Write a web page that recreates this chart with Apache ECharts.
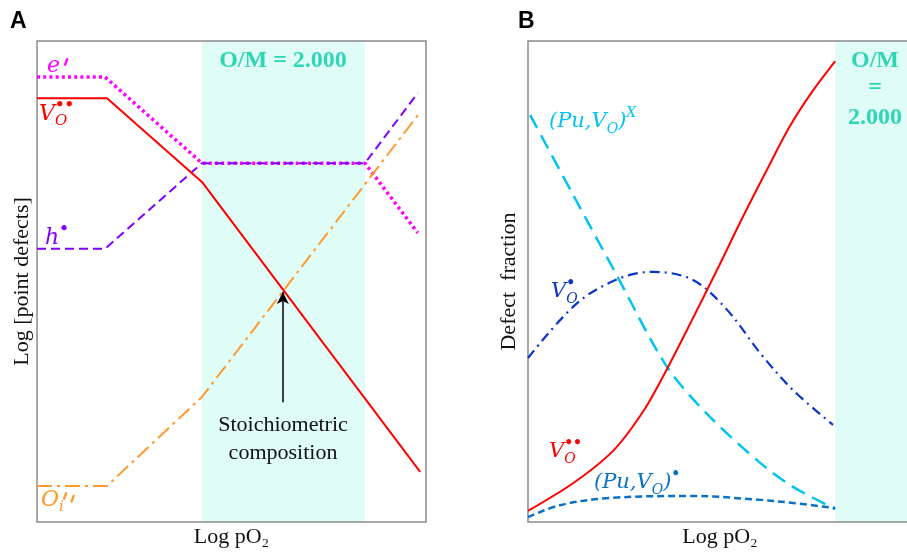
<!DOCTYPE html>
<html>
<head>
<meta charset="utf-8">
<script src="https://cdn.jsdelivr.net/npm/echarts@6/dist/echarts.min.js"></script>
<style>
  html, body { margin: 0; padding: 0; background: #fff; }
  #chart { width: 907px; height: 552px; }
</style>
</head>
<body>
<div id="chart"></div>
<script>
// panel A: Log [point defects] vs Log pO2 (arbitrary units, 0..100)
var electronA = [[0, 92.5], [17.5, 92.5], [42.4, 74.6], [84.3, 74.6], [97.9, 60.1]];
var vacancyA = [[0, 88.1], [18, 88.1], [42.4, 70.7], [98.5, 10.4]];
var holeA = [[0, 56.8], [17.5, 56.8], [42.4, 74.6], [84.3, 74.6], [97.9, 89.2]];
var interstitialA = [[0, 7.5], [18, 7.5], [42.4, 26], [98.5, 85.2]];
var stoichBandA = [42.4, 84.3];
var arrowA = [[63.2, 24.9], [63.2, 47.8]];

// panel B: defect fraction vs Log pO2
var vacancy2B = [[0, 2.3], [15, 8.2], [28, 15], [38, 23.5], [45, 31.5], [53, 41.5],
  [62, 53], [70, 63.5], [78, 73.5], [85, 82], [92, 89], [100, 95.8]];
var clusterNeutralB = [[0.7, 84.6], [14.7, 68], [28.3, 52], [45.3, 32.2], [59.3, 21.8],
  [75.6, 12.3], [86.3, 7.3], [100, 2.7]];
var vacancy1B = [[0, 34.1], [16, 45.5], [30, 50.7], [40.7, 52], [53.7, 50.3], [64.8, 44.1],
  [75.6, 35.1], [86.3, 27.4], [99.3, 20.2]];
var clusterChargedB = [[0, 1], [10.4, 3.5], [26.7, 5], [53.7, 5.4], [75.6, 4.6], [86.3, 3.95], [100, 2.9]];
var stoichBandB = [100, 125];

var SERIF = '"Liberation Serif", "DejaVu Serif", serif';
var MATH = '"DejaVu Serif", serif';
var TEAL = '#2ed6b4';
var SHADE = '#e0fcf7';

var chart = echarts.init(document.getElementById('chart'));

// measure text for math labels
var mctx = document.createElement('canvas').getContext('2d');
function tw(t, font) {
  mctx.font = font;
  return mctx.measureText(t).width;
}

// parts: [text, kind, bold] kind = n | sub | sup | prime
function mathLabel(x, y, parts, color, size) {
  var els = [];
  var cx = x, subStart = null, prev = 'n';
  var small = Math.round(size * 0.68);
  parts.forEach(function (p) {
    var t = p[0], k = p[1];
    var font, yy = y, rot = 0, va = 'middle', dx = 0;
    if (k === 'n') {
      font = 'italic ' + size + 'px ' + MATH;
    } else if (k === 'prime') {
      font = Math.round(size * 1.3) + 'px ' + MATH;
      yy = y - size * 0.45;
      va = 'top';
      rot = -0.35;
      dx = 4;
      if (prev === 'sub') cx = subStart;
    } else if (k === 'sub') {
      font = 'italic ' + small + 'px ' + MATH;
      yy = y + size * 0.34;
      subStart = cx;
    } else {
      font = (p[2] ? 'bold ' : 'italic ') + small + 'px ' + MATH;
      yy = y - size * 0.42;
      if (prev === 'sub') cx = subStart;
    }
    els.push({
      type: 'text', z: 100, x: cx + dx, y: yy, rotation: rot,
      style: { x: 0, y: 0, text: t, font: font, fill: color, verticalAlign: va }
    });
    var w = tw(t, font);
    if (k === 'sub') {
      subStart = cx;
      cx += w;
    } else if ((k === 'sup' || k === 'prime') && prev === 'sub') {
      cx = Math.max(cx + w, subStart + w);
    } else {
      cx += w;
    }
    prev = k;
  });
  return els;
}

function plainText(x, y, t, size, color, weight) {
  return {
    type: 'text', z: 100,
    style: {
      x: x, y: y, text: t, fill: color,
      font: (weight || 'normal') + ' ' + size + 'px ' + SERIF,
      align: 'center', verticalAlign: 'middle'
    }
  };
}

var graphics = [
  { type: 'text', z: 100, style: { x: 10, y: 22, text: 'A', font: 'bold 23px "Liberation Sans", Arial, sans-serif', fill: '#000', verticalAlign: 'middle' } },
  { type: 'text', z: 100, style: { x: 518, y: 22, text: 'B', font: 'bold 23px "Liberation Sans", Arial, sans-serif', fill: '#000', verticalAlign: 'middle' } },
  plainText(283, 61, 'O/M = 2.000', 24, TEAL, 'bold'),
  plainText(875, 61, 'O/M', 24, TEAL, 'bold'),
  plainText(875, 88, '=', 24, TEAL, 'bold'),
  plainText(875, 118, '2.000', 24, TEAL, 'bold')
];
graphics = graphics
  .concat(mathLabel(47, 66, [['e', 'n'], ["'", 'prime']], '#ff00ff', 22))
  .concat(mathLabel(39, 114, [['V', 'n'], ['O', 'sub'], ['\u2022\u2022', 'sup', true]], '#ff0000', 22))
  .concat(mathLabel(45, 238, [['h', 'n'], ['\u2022', 'sup', true]], '#7f00ff', 22))
  .concat(mathLabel(41, 500, [['O', 'n'], ['i', 'sub'], ["''", 'prime']], '#ff9a2e', 22))
  .concat(mathLabel(549, 122, [['(Pu,V', 'n'], ['O', 'sub'], [')', 'n'], ['X', 'sup']], '#00c3f5', 21))
  .concat(mathLabel(551, 292, [['V', 'n'], ['O', 'sub'], ['\u2022', 'sup', true]], '#0a35c8', 21))
  .concat(mathLabel(549, 452, [['V', 'n'], ['O', 'sub'], ['\u2022\u2022', 'sup', true]], '#ff0000', 21))
  .concat(mathLabel(594, 483, [['(Pu,V', 'n'], ['O', 'sub'], [')', 'n'], ['\u2022', 'sup', true]], '#0a72c4', 21));
graphics.push(plainText(283, 425, 'Stoichiometric', 22, '#111'));
graphics.push(plainText(283, 453, 'composition', 22, '#111'));

function axisBase(extra) {
  return Object.assign({
    type: 'value',
    axisLine: { show: false },
    axisTick: { show: false },
    axisLabel: { show: false },
    splitLine: { show: false }
  }, extra);
}

function curve(name, data, color, width, dash, gi, smooth) {
  return {
    name: name, type: 'line', data: data,
    xAxisIndex: gi, yAxisIndex: gi,
    showSymbol: false, smooth: smooth || false,
    lineStyle: { color: color, width: width, type: dash, cap: 'butt' },
    silent: true, animation: false
  };
}

var nameStyle = { fontFamily: SERIF, fontSize: 22, color: '#111' };

chart.setOption({
  animation: false,
  grid: [
    { left: 37, top: 41, width: 389, height: 481, show: true, borderColor: '#8a8a8a', borderWidth: 1.5, z: 3, outerBoundsMode: 'none' },
    { left: 528, top: 41, width: 384, height: 481, show: true, borderColor: '#8a8a8a', borderWidth: 1.5, z: 3, outerBoundsMode: 'none' }
  ],
  xAxis: [
    axisBase({ gridIndex: 0, min: 0, max: 100, name: 'Log pO\u2082', nameLocation: 'middle', nameGap: 4, nameTextStyle: nameStyle }),
    axisBase({ gridIndex: 1, min: 0, max: 125, name: 'Log pO\u2082', nameLocation: 'middle', nameGap: 4, nameTextStyle: nameStyle })
  ],
  yAxis: [
    axisBase({ gridIndex: 0, min: 0, max: 100, name: 'Log [point defects]', nameLocation: 'middle', nameGap: 4, nameTextStyle: nameStyle }),
    axisBase({ gridIndex: 1, min: 0, max: 100, name: 'Defect  fraction', nameLocation: 'middle', nameGap: 8, nameTextStyle: nameStyle })
  ],
  graphic: graphics,
  series: [
    {
      type: 'line', data: [], xAxisIndex: 0, yAxisIndex: 0, silent: true,
      markArea: {
        silent: true, itemStyle: { color: SHADE },
        data: [[{ xAxis: stoichBandA[0], yAxis: 0 }, { xAxis: stoichBandA[1], yAxis: 100 }]]
      }
    },
    {
      type: 'line', data: [], xAxisIndex: 1, yAxisIndex: 1, silent: true,
      markArea: {
        silent: true, itemStyle: { color: SHADE },
        data: [[{ xAxis: stoichBandB[0], yAxis: 0 }, { xAxis: stoichBandB[1], yAxis: 100 }]]
      }
    },
    curve('e', electronA, '#ff00ff', 3.5, [3, 3.2], 0),
    curve('h', holeA, '#7f00ff', 2, [9, 5], 0),
    curve('Oi', interstitialA, '#ff9a2e', 2, [15, 5, 3, 5], 0),
    Object.assign(curve('Vo', vacancyA, '#ff0000', 2, 'solid', 0), {
      markLine: {
        silent: true, symbol: ['none', 'arrow'], symbolSize: [9, 12],
        label: { show: false },
        lineStyle: { color: '#000', width: 1.5, type: 'solid' },
        data: [[{ coord: arrowA[0] }, { coord: arrowA[1] }]]
      }
    }),
    curve('PuVoX', clusterNeutralB, '#00c3f5', 2.5, [15, 8], 1, 0.3),
    curve('Vo1', vacancy1B, '#0a35c8', 2.2, [10, 5, 2, 5], 1, 0.35),
    curve('PuVo1', clusterChargedB, '#0a72c4', 2.5, [7, 4], 1, 0.35),
    curve('Vo2', vacancy2B, '#ff0000', 2, 'solid', 1, 0.3)
  ]
});
</script>
</body>
</html>
